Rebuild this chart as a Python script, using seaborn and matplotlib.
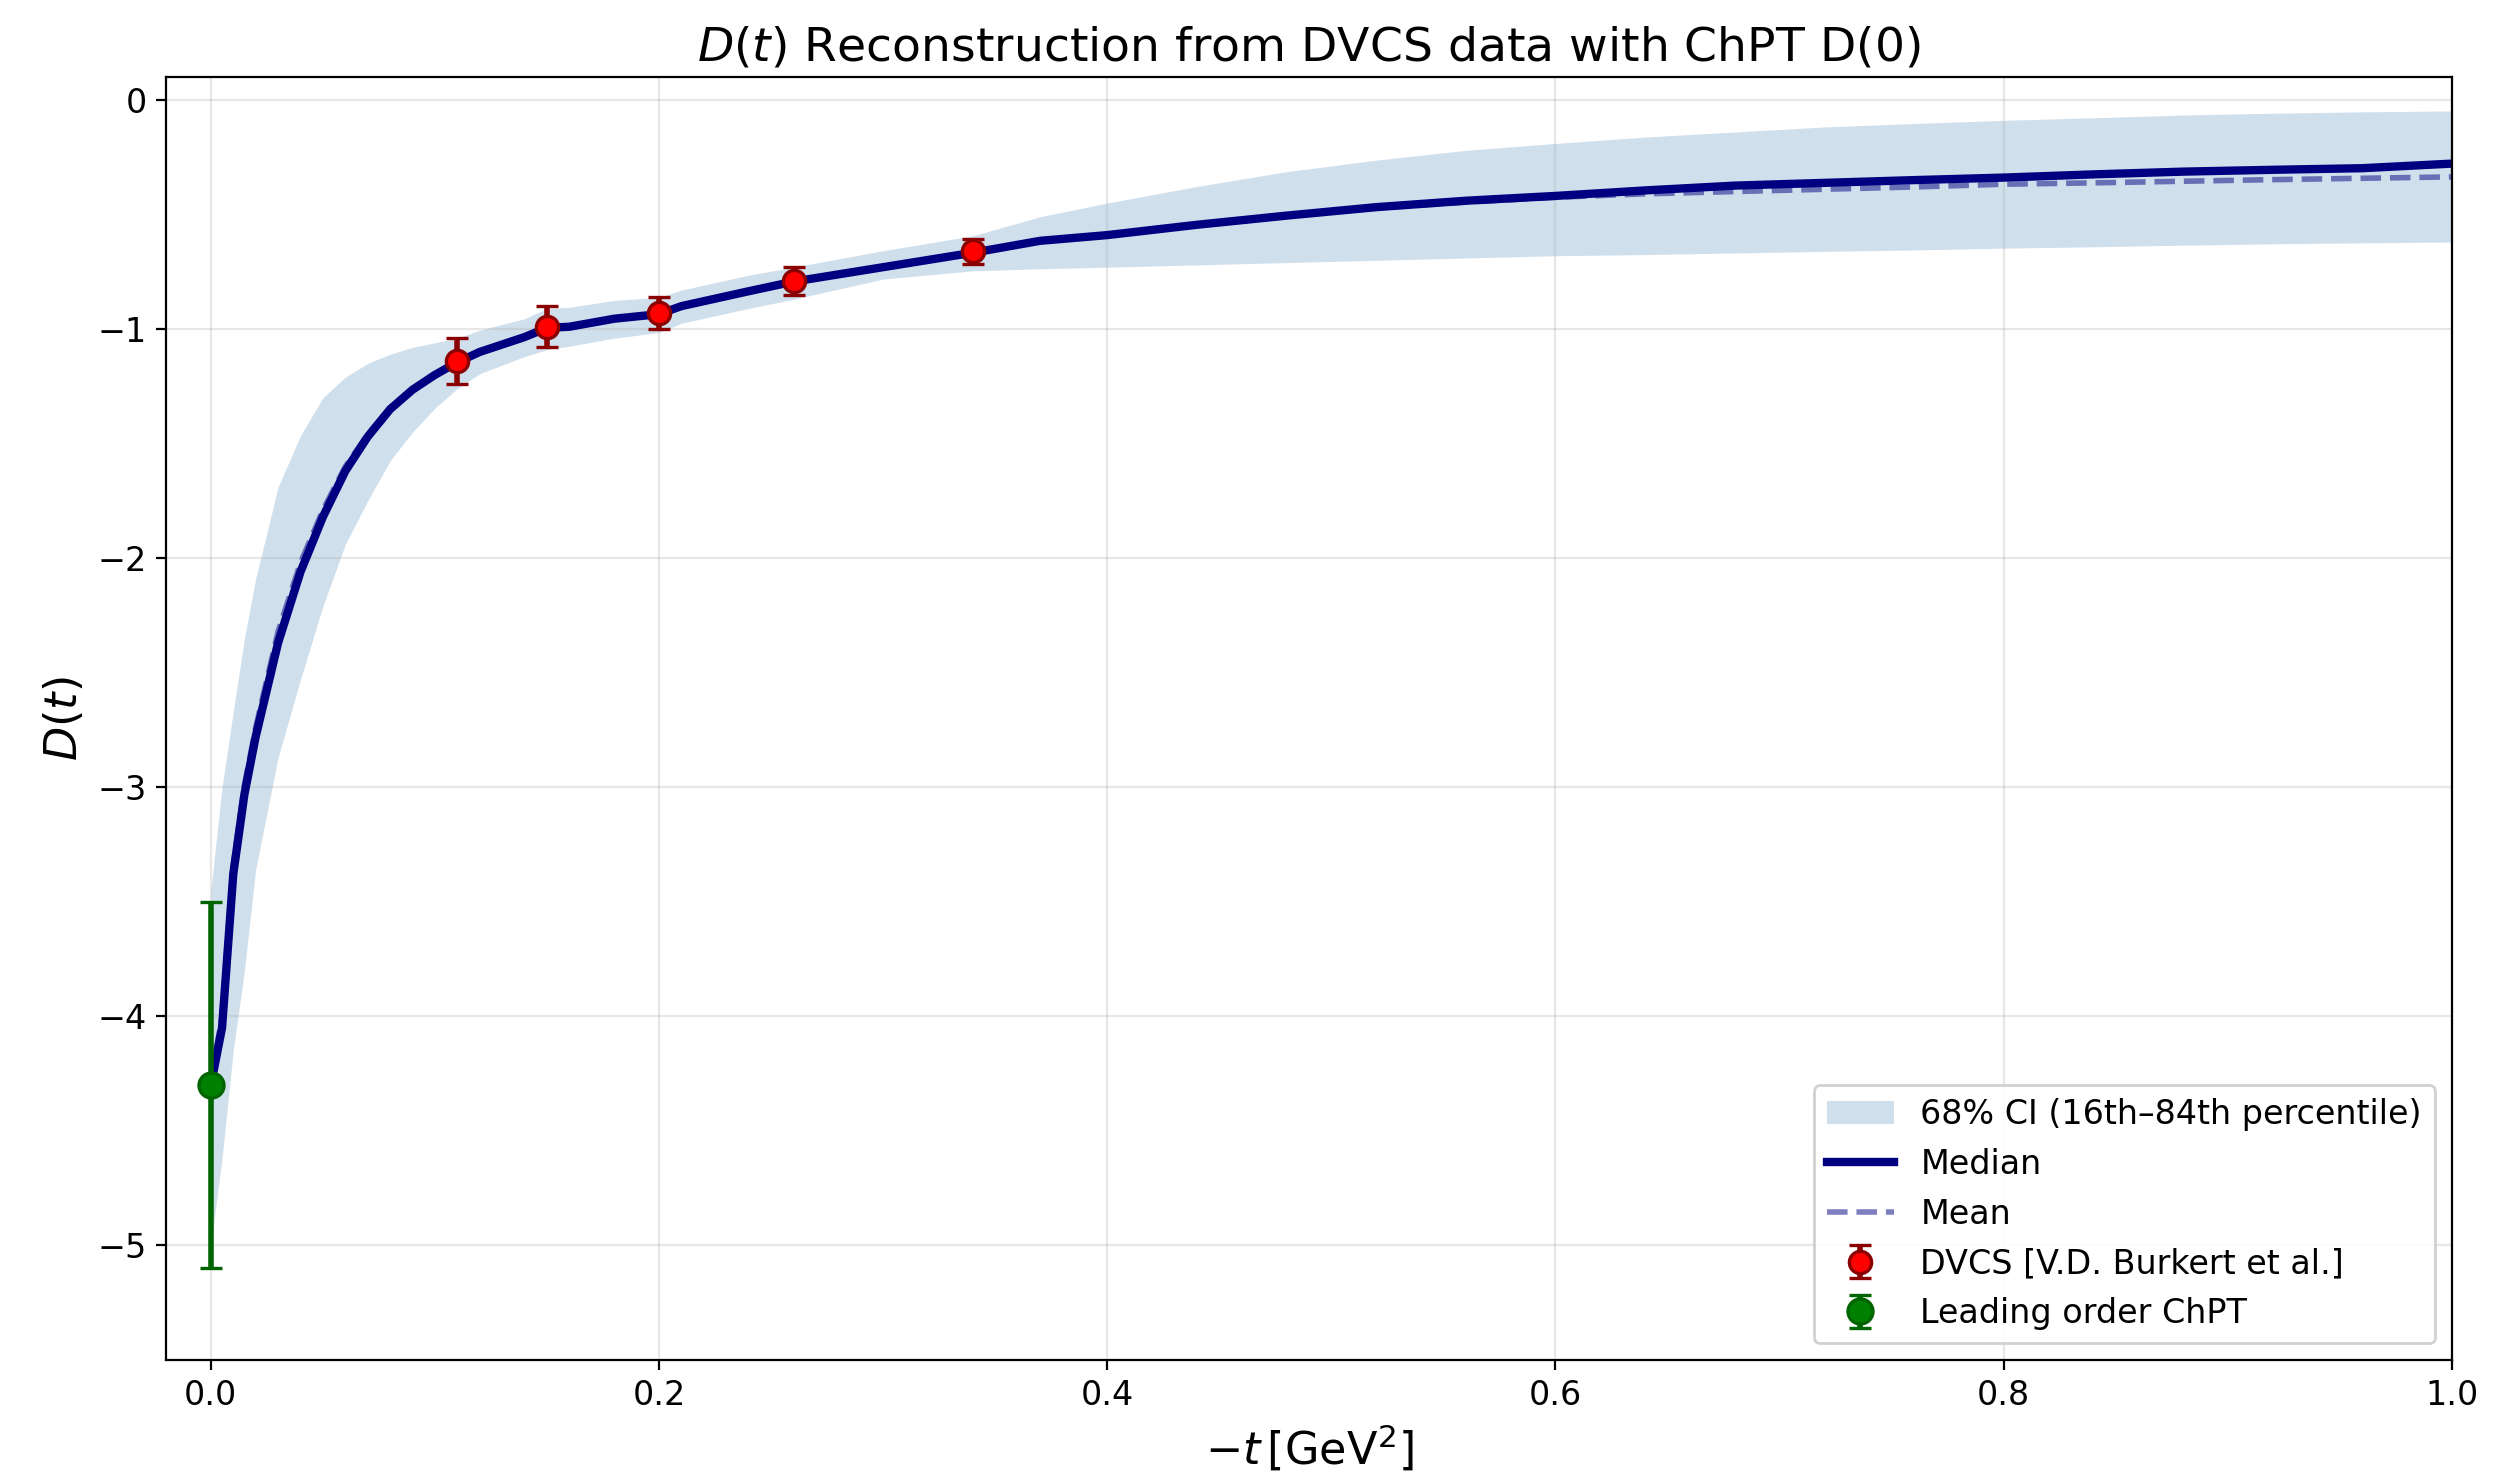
import numpy as np
import pandas as pd
import matplotlib
matplotlib.use("Agg")
import matplotlib.pyplot as plt
import seaborn as sns

# ---- data ----
t_grid = [0.0, 0.005, 0.01, 0.015, 0.02, 0.03, 0.04, 0.05, 0.06, 0.07, 0.08, 0.09,
          0.10, 0.11, 0.12, 0.14, 0.15, 0.16, 0.18, 0.20, 0.21, 0.24, 0.26, 0.30,
          0.34, 0.37, 0.40, 0.44, 0.48, 0.52, 0.56, 0.60, 0.64, 0.68, 0.72, 0.76,
          0.80, 0.84, 0.88, 0.92, 0.96, 1.00]
median_D = [-4.30, -4.05, -3.38, -3.03, -2.78, -2.37, -2.06, -1.82, -1.62, -1.47, -1.35, -1.265,
            -1.20, -1.145, -1.10, -1.035, -0.995, -0.99, -0.955, -0.935, -0.90, -0.835, -0.793, -0.73,
            -0.667, -0.615, -0.59, -0.545, -0.505, -0.468, -0.44, -0.419, -0.395, -0.374, -0.362, -0.35,
            -0.339, -0.325, -0.313, -0.305, -0.298, -0.278]
mean_D = [-4.28, -4.00, -3.34, -2.99, -2.74, -2.32, -2.02, -1.79, -1.60, -1.46, -1.345, -1.262,
          -1.20, -1.145, -1.10, -1.035, -0.995, -0.99, -0.955, -0.935, -0.90, -0.835, -0.793, -0.73,
          -0.667, -0.617, -0.592, -0.548, -0.508, -0.472, -0.446, -0.425, -0.41, -0.40, -0.39, -0.38,
          -0.368, -0.362, -0.355, -0.348, -0.342, -0.336]
lower_D = [-5.00, -4.62, -4.15, -3.80, -3.36, -2.87, -2.53, -2.21, -1.94, -1.75, -1.575, -1.45,
           -1.345, -1.26, -1.195, -1.12, -1.09, -1.075, -1.04, -1.015, -0.975, -0.91, -0.87, -0.782,
           -0.746, -0.737, -0.73, -0.72, -0.71, -0.70, -0.69, -0.68, -0.675, -0.668, -0.661, -0.655,
           -0.647, -0.641, -0.634, -0.628, -0.624, -0.62]
upper_D = [-3.45, -3.00, -2.67, -2.35, -2.09, -1.69, -1.465, -1.30, -1.21, -1.15, -1.11, -1.08,
           -1.06, -1.04, -1.005, -0.955, -0.91, -0.905, -0.875, -0.862, -0.83, -0.765, -0.73, -0.658,
           -0.593, -0.51, -0.45, -0.378, -0.313, -0.263, -0.22, -0.19, -0.162, -0.14, -0.118, -0.103,
           -0.089, -0.078, -0.066, -0.058, -0.052, -0.048]

dvcs_t = [0.11, 0.15, 0.20, 0.26, 0.34]
dvcs_D = [-1.14, -0.99, -0.93, -0.79, -0.66]
dvcs_err = [0.10, 0.09, 0.07, 0.06, 0.055]

chpt_t = [0.0]
chpt_D = [-4.3]
chpt_err = [0.8]

# ---- plot ----
plt.rcParams['font.family'] = ['DejaVu Sans']

fig = plt.figure(figsize=(12.52, 7.405), dpi=200)
ax = fig.add_axes([0.0663, 0.0817, 0.9129, 0.8663])

df = pd.DataFrame({"t": t_grid, "median": median_D, "mean": mean_D})

ax.fill_between(t_grid, lower_D, upper_D, color="steelblue", alpha=0.25, linewidth=0,
                label="68% CI (16th\u201384th percentile)")
sns.lineplot(data=df, x="t", y="median", ax=ax, color="navy", linewidth=3, label="Median")
sns.lineplot(data=df, x="t", y="mean", ax=ax, color="navy", linewidth=2, linestyle="--",
             alpha=0.5, label="Mean")

ax.errorbar(dvcs_t, dvcs_D, yerr=dvcs_err, fmt="o", color="red", markeredgecolor="darkred",
            ecolor="darkred", markersize=8, capsize=4, elinewidth=2, capthick=2,
            markeredgewidth=1.2, zorder=5, label="DVCS [V.D. Burkert et al.]")
ax.errorbar(chpt_t, chpt_D, yerr=chpt_err, fmt="o", color="green", markeredgecolor="darkgreen",
            ecolor="darkgreen", markersize=9, capsize=4, elinewidth=2, capthick=2,
            markeredgewidth=1.2, zorder=5, label="Leading order ChPT")

ax.set_xlim(-0.02, 1.0)
ax.set_ylim(-5.5, 0.1)
ax.set_xticks([0.0, 0.2, 0.4, 0.6, 0.8, 1.0])
ax.set_yticks([0, -1, -2, -3, -4, -5])
ax.grid(True, alpha=0.3)
ax.tick_params(axis="both", labelsize=12)

ax.set_xlabel(r"$-t\,[\mathrm{GeV}^2]$", fontsize=16)
ax.set_ylabel(r"$D(t)$", fontsize=16)
ax.set_title(r"$D(t)$ Reconstruction from DVCS data with ChPT D(0)", fontsize=17)

ax.legend(loc="lower right", fontsize=12, framealpha=0.9)

fig.savefig("out.png", dpi=200)
